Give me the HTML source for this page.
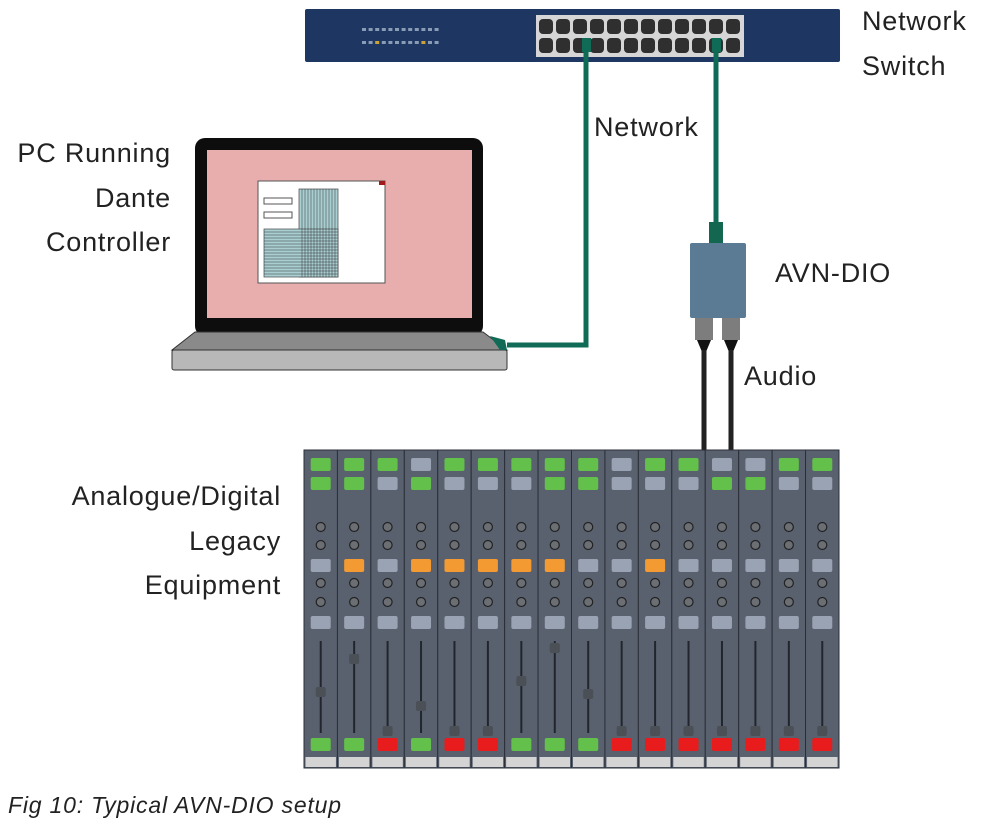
<!DOCTYPE html>
<html><head><meta charset="utf-8"><style>
body{margin:0;background:#fff;width:982px;height:828px;overflow:hidden}
svg text{font-family:"Liberation Sans",sans-serif;fill:#222}
.l{font-size:27px;letter-spacing:0.8px}
</style></head><body>
<svg id="s" width="982" height="828" viewBox="0 0 982 828" xmlns="http://www.w3.org/2000/svg">
<rect x="305" y="9" width="535" height="53" rx="2" fill="#1d3662"/>
<rect x="536" y="15" width="208" height="42" fill="#d6d6d6"/>
<g id="ports"></g>
<g id="leds"></g>
<polyline points="507,345 586,345 586,40" fill="none" stroke="#0f6b55" stroke-width="5"/>
<line x1="716" y1="40" x2="716" y2="225" stroke="#0f6b55" stroke-width="5"/>
<rect x="582" y="38" width="9" height="14" fill="#0f6b55"/>
<rect x="712" y="38" width="9" height="14" fill="#0f6b55"/>
<rect x="195" y="138" width="288" height="198" rx="10" fill="#0d0d0d"/>
<rect x="207" y="150" width="265" height="168" fill="#e8adad"/>
<polygon points="195,332 483,332 507,350 172,350" fill="#8a8a8a" stroke="#333" stroke-width="1"/>
<rect x="172" y="350" width="335" height="20" rx="2" fill="#b8b8b8" stroke="#333" stroke-width="1"/>
<polygon points="490,336 505,340 507,350 500,350" fill="#0f6b55"/>
<rect x="258" y="181" width="127" height="102" fill="#fff" stroke="#555" stroke-width="1"/>
<rect x="379" y="181" width="6" height="4" fill="#a01c1c"/>
<rect x="264" y="198" width="28" height="6" fill="#fff" stroke="#555"/>
<rect x="264" y="212" width="28" height="6" fill="#fff" stroke="#555"/>
<g id="grid"></g>
<rect x="709" y="222" width="14" height="22" fill="#136650"/>
<rect x="690" y="243" width="56" height="75" rx="2" fill="#5b7a93"/>
<rect x="695" y="318" width="18" height="22" fill="#7d7d7d"/>
<rect x="722" y="318" width="18" height="22" fill="#7d7d7d"/>
<polygon points="697,340 711,340 706,352 702,352" fill="#111"/>
<polygon points="724,340 738,340 733,352 729,352" fill="#111"/>
<line x1="704" y1="350" x2="704" y2="452" stroke="#222" stroke-width="5"/>
<line x1="731" y1="350" x2="731" y2="452" stroke="#222" stroke-width="5"/>
<g id="mix"></g>
<text class="l" x="862" y="30">Network</text>
<text class="l" x="862" y="75">Switch</text>
<text class="l" x="594" y="136">Network</text>
<text class="l" x="171" y="162" text-anchor="end">PC Running</text>
<text class="l" x="171" y="207" text-anchor="end">Dante</text>
<text class="l" x="171" y="251" text-anchor="end">Controller</text>
<text class="l" x="775" y="282">AVN-DIO</text>
<text class="l" x="744" y="385">Audio</text>
<text class="l" x="281" y="505" text-anchor="end">Analogue/Digital</text>
<text class="l" x="281" y="550" text-anchor="end">Legacy</text>
<text class="l" x="281" y="594" text-anchor="end">Equipment</text>
<text x="8" y="813" font-size="23" letter-spacing="0.8" font-style="italic" fill="#333">Fig 10: Typical AVN-DIO setup</text>
</svg>
<script>
const NS="http://www.w3.org/2000/svg";
function el(p,t,a){const e=document.createElementNS(NS,t);for(const k in a)e.setAttribute(k,a[k]);document.getElementById(p).appendChild(e);return e;}
for(let r=0;r<2;r++)for(let i=0;i<12;i++){el('ports','rect',{x:539+i*17,y:19+r*19,width:14,height:15,rx:4,fill:'#2f2f2f'});}
for(let r=0;r<2;r++)for(let i=0;i<12;i++){let c='#8a9bb5';if(r==1&&(i==2||i==9))c='#c9a23a';el('leds','rect',{x:362+i*6.6,y:28+r*13,width:4,height:3,fill:c});}
el('grid','rect',{x:299,y:189,width:39,height:88,fill:'#a9cfd3',stroke:'#444','stroke-width':0.7});
el('grid','rect',{x:264,y:229,width:74,height:48,fill:'#a9cfd3',stroke:'#444','stroke-width':0.7});
for(let x=302;x<338;x+=3)el('grid','line',{x1:x,y1:189,x2:x,y2:277,stroke:'#333','stroke-width':0.5});
for(let y=232;y<277;y+=3)el('grid','line',{x1:264,y1:y,x2:338,y2:y,stroke:'#333','stroke-width':0.5});
const G='#63c04a',Y='#9aa3b3',O='#f39a33',R='#e81c1c';
const r1="GGGYGGGGGYGGYYGG",r2="GGYGYYYGGYYYGGYY",mid="YOYOOOOOYYOYYYYY",bot="GGRGRRGGGRRRRRRR";
const fy=[692,659,731,706,731,731,681,648,694,731,731,731,731,731,731,731];
const col={G:G,Y:Y,O:O,R:R};
const w=535/16;
el('mix','rect',{x:304,y:450,width:535,height:318,fill:'#5a6374'});
for(let i=0;i<16;i++){
 const x=304+i*w,cx=x+w/2;
 el('mix','rect',{x:x,y:450,width:w,height:318,fill:'#59616f',stroke:'#2a2f38','stroke-width':1});
 el('mix','rect',{x:cx-10,y:458,width:20,height:13,rx:2,fill:col[r1[i]]});
 el('mix','rect',{x:cx-10,y:477,width:20,height:13,rx:2,fill:col[r2[i]]});
 for(const y of [527,545,583,602])el('mix','circle',{cx:cx,cy:y,r:4.5,fill:'#6b6f74',stroke:'#222','stroke-width':1.2});
 el('mix','rect',{x:cx-10,y:559,width:20,height:13,rx:2,fill:col[mid[i]]});
 el('mix','rect',{x:cx-10,y:616,width:20,height:13,rx:2,fill:Y});
 el('mix','line',{x1:cx,y1:641,x2:cx,y2:733,stroke:'#22262c','stroke-width':2});
 el('mix','rect',{x:cx-5,y:fy[i]-5,width:10,height:10,rx:2,fill:'#4b4f56'});
 el('mix','rect',{x:cx-10,y:738,width:20,height:13,rx:2,fill:col[bot[i]]});
 el('mix','rect',{x:x+1.5,y:757,width:w-3,height:10,fill:'#d4d4d4'});
}
</script>
</body></html>
